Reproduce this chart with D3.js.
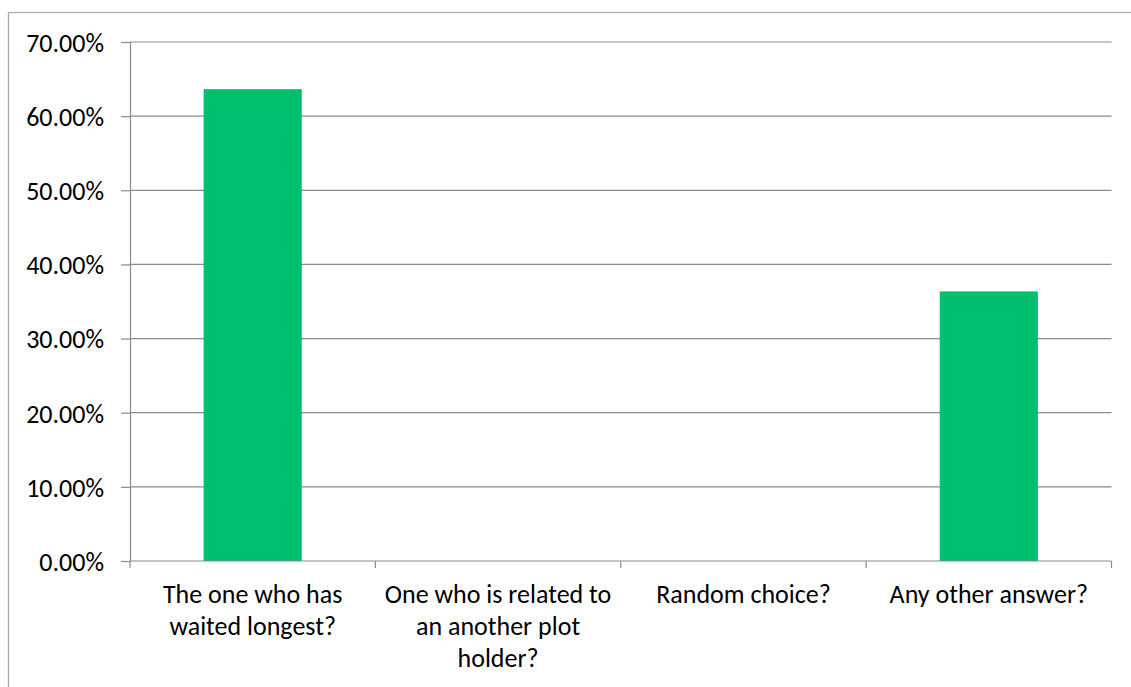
<!DOCTYPE html>
<html>
<head>
<meta charset="utf-8">
<script src="https://cdn.jsdelivr.net/npm/d3@7"></script>
<style>
  html, body { margin: 0; padding: 0; background: #fff; }
  svg { display: block; }
  text { font-family: Carlito, Calibri, "Liberation Sans", Arial, sans-serif; fill: #000; }
</style>
</head>
<body>
<svg id="chart" width="1131" height="687"></svg>
<script>
// Survey answers and their shares
const categories = [
  ["The one who has", "waited longest?"],
  ["One who is related to", "an another plot", "holder?"],
  ["Random choice?"],
  ["Any other answer?"]
];
const values = [0.6364, 0, 0, 0.3636];
const yTicks = [0, 0.1, 0.2, 0.3, 0.4, 0.5, 0.6, 0.7];

const W = 1131, H = 687;
const plot = { left: 130, right: 1111.5, top: 42, bottom: 561 };
const svg = d3.select("#chart");

// Chart frame (runs off the right and bottom edges)
svg.append("rect")
  .attr("x", 8.5).attr("y", 12.5)
  .attr("width", W).attr("height", H)
  .attr("fill", "none").attr("stroke", "#ABABAB").attr("stroke-width", 1.3);

const keys = categories.map((d, i) => i);
const x = d3.scaleBand().domain(keys)
  .range([plot.left, plot.right])
  .paddingInner(0.6).paddingOuter(0.3);
const y = d3.scaleLinear().domain([0, 0.7]).range([plot.bottom, plot.top]);

// Horizontal gridlines
svg.append("g").selectAll("line").data(yTicks.filter(t => t > 0)).join("line")
  .attr("x1", plot.left).attr("x2", plot.right)
  .attr("y1", d => y(d)).attr("y2", d => y(d))
  .attr("stroke", "#8A8A8A").attr("stroke-width", 1.2);

// Bars
svg.append("g").selectAll("rect").data(values).join("rect")
  .attr("x", (d, i) => x(i))
  .attr("width", x.bandwidth())
  .attr("y", d => y(d))
  .attr("height", d => y(0) - y(d))
  .attr("fill", "#00BF6F");

// Y axis
const yAxis = svg.append("g")
  .attr("transform", `translate(${plot.left},0)`)
  .call(d3.axisLeft(y).tickValues(yTicks).tickFormat(d3.format(".2%")).tickSizeOuter(0).tickSize(9).tickPadding(17));
yAxis.select(".domain").attr("stroke", "#8A8A8A").attr("stroke-width", 1.2);
yAxis.selectAll(".tick line").attr("stroke", "#8A8A8A").attr("stroke-width", 1.2);
yAxis.selectAll(".tick text").attr("font-size", 26).attr("font-family", null).attr("dy", "0.36em");
yAxis.attr("font-family", null).attr("font-size", null);

// X axis baseline with category separators
const step = x.step();
const edges = keys.map(i => x(i) - (step - x.bandwidth()) / 2).concat([plot.right]);
const xg = svg.append("g");
xg.append("line")
  .attr("x1", plot.left).attr("x2", plot.right)
  .attr("y1", y(0)).attr("y2", y(0))
  .attr("stroke", "#8A8A8A").attr("stroke-width", 1.2);
xg.selectAll("line.sep").data(edges).join("line").attr("class", "sep")
  .attr("x1", d => d).attr("x2", d => d)
  .attr("y1", y(0)).attr("y2", y(0) + 7)
  .attr("stroke", "#8A8A8A").attr("stroke-width", 1.2);

// Category labels
const lab = xg.selectAll("text").data(categories).join("text")
  .attr("text-anchor", "middle")
  .attr("font-size", 26)
  .attr("x", (d, i) => x(i) + x.bandwidth() / 2)
  .attr("y", y(0) + 42);
lab.selectAll("tspan").data(d => d).join("tspan")
  .attr("x", function() { return this.parentNode.getAttribute("x"); })
  .attr("dy", (d, i) => i === 0 ? 0 : 32)
  .text(d => d);
</script>
</body>
</html>
